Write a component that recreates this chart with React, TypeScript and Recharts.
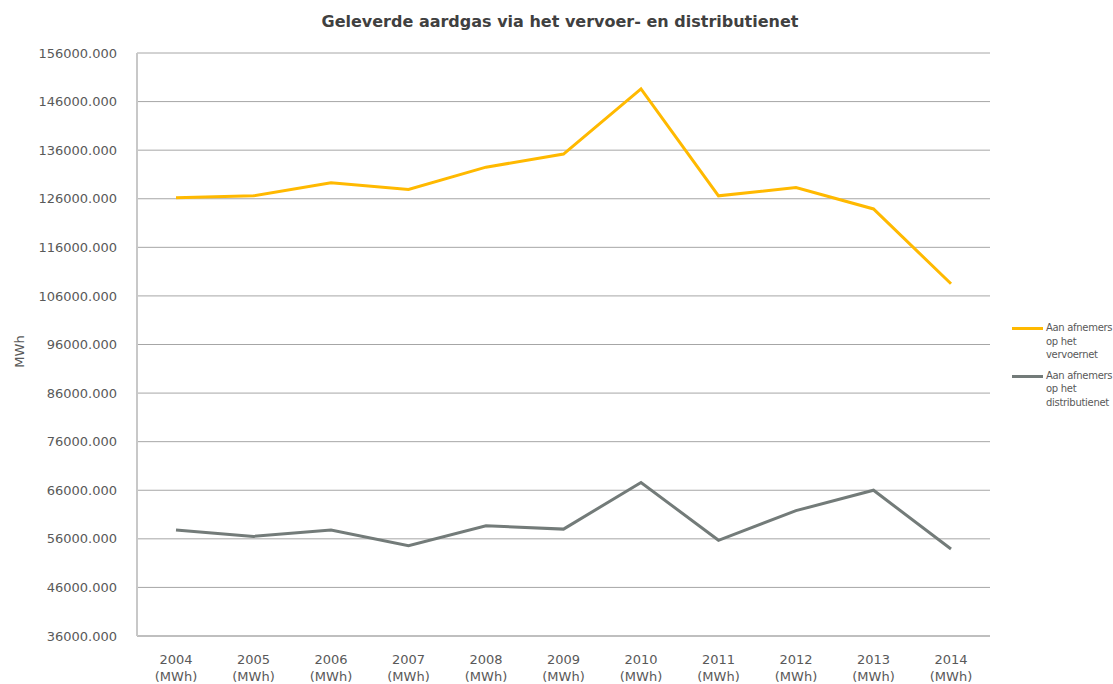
import React from 'react';
import { LineChart, Line, XAxis, YAxis, CartesianGrid, Legend } from 'recharts';

const years = ['2004', '2005', '2006', '2007', '2008', '2009', '2010', '2011', '2012', '2013', '2014'];
const vervoernet = [126200, 126600, 129300, 127900, 132500, 135200, 148600, 126600, 128300, 123900, 108500];
const distributienet = [57800, 56500, 57800, 54600, 58700, 58000, 67600, 55700, 61800, 66000, 53900];
const yTicks = [36000, 46000, 56000, 66000, 76000, 86000, 96000, 106000, 116000, 126000, 136000, 146000, 156000];

const SERIES_1 = 'Aan afnemers op het vervoernet';
const SERIES_2 = 'Aan afnemers op het distributienet';
const seriesOrder = ['vervoernet', 'distributienet'];

const FONT = '"DejaVu Sans", Verdana, sans-serif';

const data = years.map((y, i) => ({
  category: `${y} (MWh)`,
  vervoernet: vervoernet[i],
  distributienet: distributienet[i],
}));

// two-line category tick: "2004" / "(MWh)"
const CategoryTick = (props: any) => {
  const { x, y, payload } = props;
  const [year, unit] = String(payload.value).split(' ');
  return (
    <g>
      <text x={x} y={y + 20} textAnchor="middle" fill="#595959" fontSize={13} fontFamily={FONT}>{year}</text>
      <text x={x} y={y + 37} textAnchor="middle" fill="#595959" fontSize={13} fontFamily={FONT}>{unit}</text>
    </g>
  );
};

// wrap legend names the way the original does: "Aan afnemers" / "op het" / rest
const wrapName = (name: string) => {
  const w = name.split(' ');
  return [w.slice(0, 2).join(' '), w.slice(2, 4).join(' '), w.slice(4).join(' ')];
};

const LegendContent = (props: any) => {
  const items = [...(props.payload || [])].sort(
    (a: any, b: any) => seriesOrder.indexOf(a.dataKey) - seriesOrder.indexOf(b.dataKey)
  );
  return (
    <div style={{ fontFamily: FONT, fontSize: 10, letterSpacing: -0.3, color: '#595959', lineHeight: '13.5px' }}>
      {items.map((p: any) => (
        <div key={p.value} style={{ display: 'flex', alignItems: 'flex-start', marginBottom: 7 }}>
          <div style={{ width: 31, height: 3, background: p.color, marginTop: 6, marginRight: 3, flexShrink: 0 }} />
          <div style={{ whiteSpace: 'nowrap' }}>
            {wrapName(p.value).map((line) => (
              <div key={line}>{line}</div>
            ))}
          </div>
        </div>
      ))}
    </div>
  );
};

const App: React.FC = () => {
  return (
    <div style={{ width: 1113, height: 684, overflow: 'hidden', position: 'relative', background: '#fff' }}>
      <style>{'body{margin:0}'}</style>
      <div
        style={{
          position: 'absolute',
          top: 12,
          left: 0,
          width: 1120,
          textAlign: 'center',
          fontFamily: FONT,
          fontWeight: 'bold',
          fontSize: 16,
          color: '#404040',
          zIndex: 2,
        }}
      >
        Geleverde aardgas via het vervoer- en distributienet
      </div>
      <LineChart width={1113} height={684} data={data} margin={{ top: 53, right: 23, bottom: 0, left: 0 }}>
        <CartesianGrid vertical={false} stroke="#a6a6a6" />
        <XAxis
          dataKey="category"
          height={48}
          padding={{ left: 39, right: 39 }}
          tickLine={false}
          axisLine={{ stroke: '#bfbfbf', strokeWidth: 2 }}
          tick={<CategoryTick />}
          interval={0}
        />
        <YAxis
          width={137}
          domain={[36000, 156000]}
          ticks={yTicks}
          allowDataOverflow
          tickLine={false}
          tickMargin={14}
          axisLine={{ stroke: '#c8c8c8', strokeWidth: 2 }}
          tickFormatter={(v: number) => v.toFixed(3)}
          tick={{ fill: '#595959', fontSize: 13, fontFamily: FONT }}
          label={({ viewBox }: any) => (
            <text
              x={19}
              y={viewBox.y + viewBox.height / 2 + 7}
              transform={`rotate(-90, 19, ${viewBox.y + viewBox.height / 2 + 7})`}
              textAnchor="middle"
              dominantBaseline="central"
              fill="#595959"
              fontSize={13}
              fontFamily={FONT}
            >
              MWh
            </text>
          )}
        />
        <Legend
          layout="vertical"
          align="right"
          verticalAlign="middle"
          width={100}
          content={<LegendContent />}
          wrapperStyle={{ left: 1012, top: 321, right: 'auto' }}
        />
        <Line
          type="linear"
          dataKey="vervoernet"
          name={SERIES_1}
          stroke="#ffb900"
          strokeWidth={3}
          dot={false}
          isAnimationActive={false}
        />
        <Line
          type="linear"
          dataKey="distributienet"
          name={SERIES_2}
          stroke="#737b79"
          strokeWidth={3}
          dot={false}
          isAnimationActive={false}
        />
      </LineChart>
    </div>
  );
};

export default App;
